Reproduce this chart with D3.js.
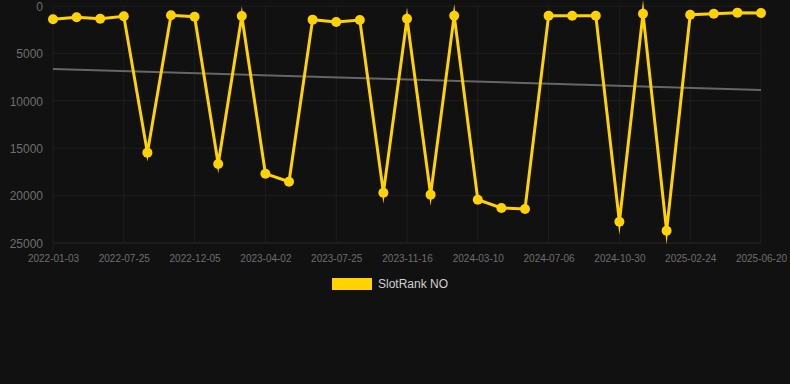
<!DOCTYPE html>
<html><head><meta charset="utf-8">
<script src="https://cdn.jsdelivr.net/npm/d3@7"></script>
<style>
html,body{margin:0;padding:0;background:#111111;}
svg{display:block;font-family:Arial,"Liberation Sans",Helvetica,sans-serif;}
</style></head>
<body><svg id="c" width="790" height="384"></svg>
<script>
const dates = ["2022-01-03","2022-03-20","2022-05-15","2022-07-25","2022-09-10","2022-10-05","2022-12-05","2023-01-10","2023-02-20","2023-04-02","2023-05-10","2023-06-15","2023-07-25","2023-08-30","2023-10-05","2023-11-16","2023-12-25","2024-02-01","2024-03-10","2024-04-15","2024-05-25","2024-07-06","2024-08-10","2024-09-20","2024-10-30","2024-12-05","2025-01-15","2025-02-24","2025-04-01","2025-05-10","2025-06-20"];
const rankValues = [1400,1190,1340,1090,15470,980,1130,16670,1050,17690,18530,1440,1690,1480,19690,1340,19900,1020,20430,21310,21410,1020,1020,1020,22750,810,23700,920,810,700,740];
const trendValues = [6650,8860];
const yTicks = [0,5000,10000,15000,20000,25000];
const seriesName = "SlotRank NO";

const svg = d3.select("#c");
const mLeft = 53, mRight = 761, mTop = 6, mBottom = 243;
const x = d3.scalePoint().domain(dates).range([mLeft,mRight]);
const y = d3.scaleLinear().domain([0,25000]).range([mTop,mBottom]);

const labelDates = dates.filter((d,i)=>i%3===0);

// grid
const g = svg.append("g");
g.selectAll("line.h").data(yTicks).enter().append("line")
  .attr("x1",mLeft).attr("x2",mRight).attr("y1",d=>y(d)).attr("y2",d=>y(d))
  .attr("stroke",d=>d===25000?"#2b2b2b":"#1e1e1e").attr("stroke-width",1);
g.selectAll("line.v").data(labelDates).enter().append("line")
  .attr("x1",d=>x(d)).attr("x2",d=>x(d)).attr("y1",mTop).attr("y2",d=>d===dates[0]?mBottom+7:mBottom)
  .attr("stroke","#1e1e1e").attr("stroke-width",1);

// y axis labels
const yAxis = d3.axisLeft(y).tickValues(yTicks).tickSize(0).tickPadding(10).tickFormat(d3.format("d"));
const ya = svg.append("g").attr("transform",`translate(${mLeft},0)`).call(yAxis);
ya.select(".domain").remove();
ya.selectAll("text").attr("fill","#6e6e6e").style("font-size","12px").attr("dy","0.35em");

// x axis labels
const xAxis = d3.axisBottom(x).tickValues(labelDates).tickSize(0).tickPadding(12);
const xa = svg.append("g").attr("transform",`translate(0,${mBottom})`).call(xAxis);
xa.select(".domain").remove();
xa.selectAll("text").attr("fill","#6e6e6e").style("font-size","10px");

// trend line
svg.append("line")
  .attr("x1",x(dates[0])).attr("x2",x(dates[dates.length-1]))
  .attr("y1",y(trendValues[0])).attr("y2",y(trendValues[1]))
  .attr("stroke","#666666").attr("stroke-width",2);

// data line
const line = d3.line().x((d,i)=>x(dates[i])).y(d=>y(d));
svg.append("path").datum(rankValues).attr("d",line)
  .attr("fill","none").attr("stroke","#ffd200").attr("stroke-width",3)
  .attr("stroke-linejoin","miter").attr("stroke-miterlimit",10);

svg.selectAll("circle.p").data(rankValues).enter().append("circle")
  .attr("cx",(d,i)=>x(dates[i])).attr("cy",d=>y(d)).attr("r",5)
  .attr("fill","#ffd200");

// legend
svg.append("rect").attr("x",332).attr("y",278).attr("width",40).attr("height",12).attr("fill","#ffd200");
svg.append("text").attr("x",378).attr("y",284).attr("dy","0.35em")
  .attr("fill","#d0d0d0").style("font-size","12px").text(seriesName);
</script></body></html>
